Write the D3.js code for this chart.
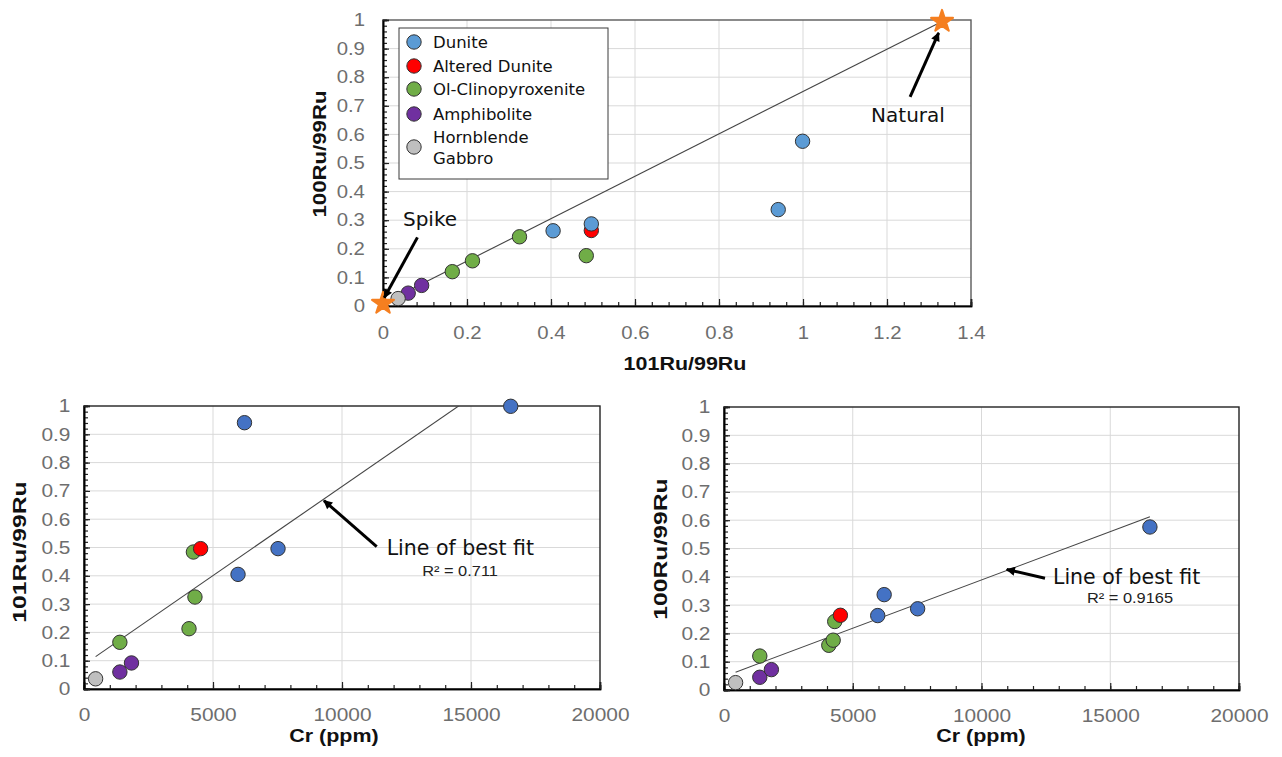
<!DOCTYPE html>
<html>
<head>
<meta charset="utf-8">
<script src="https://cdn.jsdelivr.net/npm/d3@7"></script>
<style>
  html, body { margin: 0; padding: 0; background: #fff; }
  svg { display: block; }
</style>
</head>
<body>
<svg id="chart" width="1282" height="757"></svg>
<script>
// ---- sample data ----
const groups = ["Dunite", "Altered Dunite", "Ol-Clinopyroxenite", "Amphibolite", "Hornblende Gabbro"];
const legendLabels = [["Dunite"], ["Altered Dunite"], ["Ol-Clinopyroxenite"], ["Amphibolite"], ["Hornblende", "Gabbro"]];
const colorsTop = ["#5b9bd5", "#ff0000", "#70ad47", "#7030a0", "#bfbfbf"];
const colorsBottom = ["#4472c4", "#ff0000", "#70ad47", "#7030a0", "#bfbfbf"];
// stacking order of the series (last drawn is on top)
const drawOrder = ["Ol-Clinopyroxenite", "Altered Dunite", "Amphibolite", "Hornblende Gabbro", "Dunite"];

const sampleGroup = ["Hornblende Gabbro", "Amphibolite", "Amphibolite",
  "Ol-Clinopyroxenite", "Ol-Clinopyroxenite", "Ol-Clinopyroxenite", "Ol-Clinopyroxenite",
  "Altered Dunite", "Dunite", "Dunite", "Dunite", "Dunite"];
const crPpm    = [450, 1390, 1840, 1390, 4070, 4300, 4240, 4520, 5970, 7520, 6220, 16540];
const ru101_99 = [0.036, 0.060, 0.092, 0.165, 0.213, 0.325, 0.484, 0.496, 0.405, 0.496, 0.941, 0.999];
const ru100_99 = [0.026, 0.045, 0.072, 0.120, 0.158, 0.242, 0.176, 0.264, 0.263, 0.287, 0.337, 0.576];

// isotope end-members
const endMemberNames = ["Spike", "Natural"];
const endMember101 = [0, 1.331];
const endMember100 = [0.009, 0.995];

// axis ticks
const ratioTicksX = [0, 0.2, 0.4, 0.6, 0.8, 1, 1.2, 1.4];
const ratioTicksY = [0, 0.1, 0.2, 0.3, 0.4, 0.5, 0.6, 0.7, 0.8, 0.9, 1];
const crTicks = [0, 5000, 10000, 15000, 20000];

const r2Left = "R² = 0.711";
const r2Right = "R² = 0.9165";

// ---- helpers ----
const svg = d3.select("#chart");
const ARIAL = "'Liberation Sans', Arial, sans-serif";
const DEJAVU = "'DejaVu Sans', Verdana, sans-serif";
const TXT_SX = 1.13; // horizontal stretch of the Arial lettering

const samples = crPpm.map((c, i) => ({
  cr: c, r101: ru101_99[i], r100: ru100_99[i], group: sampleGroup[i]
})).sort((a, b) => drawOrder.indexOf(a.group) - drawOrder.indexOf(b.group));

const defs = svg.append("defs");
defs.append("marker")
  .attr("id", "arrowhead")
  .attr("viewBox", "0 0 10 10")
  .attr("refX", 9).attr("refY", 5)
  .attr("markerWidth", 11).attr("markerHeight", 9)
  .attr("markerUnits", "userSpaceOnUse")
  .attr("orient", "auto")
  .append("path").attr("d", "M0,0 L10,5 L0,10 Z").attr("fill", "#000");

function fmtTick(d) { return d3.format("~g")(d); }

function linearFit(xs, ys) {
  const mx = d3.mean(xs), my = d3.mean(ys);
  const sxy = d3.sum(xs, (x, i) => (x - mx) * (ys[i] - my));
  const sxx = d3.sum(xs, x => (x - mx) * (x - mx));
  const slope = sxy / sxx;
  return { slope, intercept: my - slope * mx };
}

function panel(cfg) {
  const x = d3.scaleLinear().domain(cfg.xDomain).range([cfg.left, cfg.right]);
  const y = d3.scaleLinear().domain([0, 1]).range([cfg.bottom, cfg.top]);
  const g = svg.append("g");
  const clipId = "clip-" + cfg.id;
  defs.append("clipPath").attr("id", clipId).append("rect")
    .attr("x", cfg.left).attr("y", cfg.top)
    .attr("width", cfg.right - cfg.left).attr("height", cfg.bottom - cfg.top);

  // gridlines
  g.append("g").selectAll("line").data(cfg.xTicks.slice(1, -1)).join("line")
    .attr("x1", d => x(d)).attr("x2", d => x(d))
    .attr("y1", cfg.top).attr("y2", cfg.bottom)
    .attr("stroke", "#d9d9d9").attr("stroke-width", 1);
  g.append("g").selectAll("line").data(ratioTicksY.slice(1, -1)).join("line")
    .attr("x1", cfg.left).attr("x2", cfg.right)
    .attr("y1", d => y(d)).attr("y2", d => y(d))
    .attr("stroke", "#d9d9d9").attr("stroke-width", 1);

  // plot frame
  g.append("rect")
    .attr("x", cfg.left).attr("y", cfg.top)
    .attr("width", cfg.right - cfg.left).attr("height", cfg.bottom - cfg.top)
    .attr("fill", "none").attr("stroke", cfg.frame).attr("stroke-width", 1.4);

  // minor ticks (inside)
  const xStep = (cfg.xTicks[1] - cfg.xTicks[0]) / 5;
  const minorX = d3.range(cfg.xDomain[0], cfg.xDomain[1] + xStep / 2, xStep);
  const minorY = d3.range(0, 1.0001, 0.02);
  const axX = g.append("g").attr("transform", `translate(0,${cfg.bottom})`);
  axX.call(d3.axisBottom(x).tickValues(minorX).tickSize(-4).tickFormat(""));
  axX.append("g").call(d3.axisBottom(x).tickValues(cfg.xTicks).tickSize(-7)
    .tickPadding(cfg.xPad).tickFormat(fmtTick));
  const axY = g.append("g").attr("transform", `translate(${cfg.left},0)`);
  axY.call(d3.axisLeft(y).tickValues(minorY).tickSize(-4).tickFormat(""));
  axY.append("g").call(d3.axisLeft(y).tickValues(ratioTicksY).tickSize(-6)
    .tickPadding(cfg.yPad).tickFormat(fmtTick));
  g.selectAll(".domain").attr("stroke", "#000").attr("stroke-width", 1.6);
  g.selectAll(".tick line").attr("stroke", "#222").attr("stroke-width", 1.2);
  g.selectAll(".tick text")
    .attr("font-family", ARIAL).attr("font-size", cfg.tickFont)
    .attr("fill", "#6e6e6e")
    .attr("transform", `scale(${TXT_SX},1)`);

  // axis titles
  g.append("text")
    .attr("transform", `translate(${cfg.xTitle[0]},${cfg.xTitle[1]}) scale(${TXT_SX},1)`)
    .attr("text-anchor", "middle")
    .attr("font-family", ARIAL).attr("font-weight", "bold").attr("font-size", 19)
    .attr("fill", "#111").text(cfg.xLabel);
  g.append("text")
    .attr("transform", `translate(${cfg.yTitle[0]},${cfg.yTitle[1]}) rotate(-90) scale(${cfg.yTitleSx},1)`)
    .attr("text-anchor", "middle")
    .attr("font-family", ARIAL).attr("font-weight", "bold").attr("font-size", 19)
    .attr("fill", "#111").text(cfg.yLabel);

  return { g, x, y, clipId };
}

function drawPoints(p, xKey, yKey, colors) {
  p.g.append("g").selectAll("circle").data(samples).join("circle")
    .attr("cx", d => p.x(d[xKey])).attr("cy", d => p.y(d[yKey]))
    .attr("r", 7.2)
    .attr("fill", d => colors[groups.indexOf(d.group)])
    .attr("stroke", "#333").attr("stroke-width", 1);
}

function drawFit(p, xKey, yKey) {
  const fit = linearFit(samples.map(d => d[xKey]), samples.map(d => d[yKey]));
  const [x0, x1] = d3.extent(samples, d => d[xKey]);
  p.g.append("line")
    .attr("clip-path", `url(#${p.clipId})`)
    .attr("x1", p.x(x0)).attr("y1", p.y(fit.intercept + fit.slope * x0))
    .attr("x2", p.x(x1)).attr("y2", p.y(fit.intercept + fit.slope * x1))
    .attr("stroke", "#444").attr("stroke-width", 1.1);
}

function arrow(p, from, to) {
  p.g.append("line")
    .attr("x1", p.x(from[0])).attr("y1", p.y(from[1]))
    .attr("x2", p.x(to[0])).attr("y2", p.y(to[1]))
    .attr("stroke", "#000").attr("stroke-width", 3)
    .attr("marker-end", "url(#arrowhead)");
}

function note(p, pos, text, size, anchor) {
  p.g.append("text")
    .attr("x", p.x(pos[0])).attr("y", p.y(pos[1]))
    .attr("text-anchor", anchor || "start")
    .attr("font-family", DEJAVU).attr("font-size", size)
    .attr("fill", "#111").text(text);
}

function r2note(p, pos, text) {
  p.g.append("text")
    .attr("transform", `translate(${p.x(pos[0])},${p.y(pos[1])}) scale(${TXT_SX},1)`)
    .attr("text-anchor", "middle")
    .attr("font-family", ARIAL).attr("font-size", 14.5)
    .attr("fill", "#222").text(text);
}

// ---- top: 100Ru/99Ru vs 101Ru/99Ru ----
const ratioPanel = panel({
  id: "ratio", left: 383, right: 971, top: 20, bottom: 306,
  xDomain: [0, 1.4], xTicks: ratioTicksX, frame: "#5a5a5a",
  xPad: 20, yPad: 16, tickFont: 18,
  xLabel: "101Ru/99Ru", yLabel: "100Ru/99Ru",
  xTitle: [685, 370], yTitle: [326, 154], yTitleSx: 1.17
});

// mixing line between the spike and natural ruthenium
ratioPanel.g.append("line")
  .attr("x1", ratioPanel.x(endMember101[0])).attr("y1", ratioPanel.y(endMember100[0]))
  .attr("x2", ratioPanel.x(endMember101[1])).attr("y2", ratioPanel.y(endMember100[1]))
  .attr("stroke", "#444").attr("stroke-width", 1.1);

drawPoints(ratioPanel, "r101", "r100", colorsTop);

ratioPanel.g.append("g").selectAll("path").data(endMember101).join("path")
  .attr("transform", (d, i) => `translate(${ratioPanel.x(d)},${ratioPanel.y(endMember100[i])})`)
  .attr("d", d3.symbol(d3.symbolStar, 150))
  .attr("fill", "#f57f20").attr("stroke", "#f57f20").attr("stroke-width", 2)
  .attr("stroke-linejoin", "round");

note(ratioPanel, [0.112, 0.28], endMemberNames[0], 20, "middle");
arrow(ratioPanel, [0.082, 0.24], [endMember101[0] + 0.003, endMember100[0] + 0.02]);
note(ratioPanel, [1.25, 0.643], endMemberNames[1], 20, "middle");
arrow(ratioPanel, [1.255, 0.731], [1.323, 0.955]);

// legend
const lg = ratioPanel.g.append("g").attr("transform", "translate(399,28)");
lg.append("rect").attr("width", 209).attr("height", 151)
  .attr("fill", "#fff").attr("stroke", "#3a3a3a").attr("stroke-width", 1);
const rowY = [14, 38, 61, 86, 119];
legendLabels.forEach((lines, i) => {
  lg.append("circle").attr("cx", 15).attr("cy", rowY[i]).attr("r", 7.2)
    .attr("fill", colorsTop[i]).attr("stroke", "#333").attr("stroke-width", 1);
  const t = lg.append("text").attr("x", 34)
    .attr("font-family", DEJAVU).attr("font-size", 16.5).attr("fill", "#111");
  if (lines.length === 1) {
    t.attr("y", rowY[i] + 6).text(lines[0]);
  } else {
    t.selectAll("tspan").data(lines).join("tspan")
      .attr("x", 34).attr("y", (d, k) => rowY[i] - 4.5 + k * 21.5).text(d => d);
  }
});

// ---- bottom left: 101Ru/99Ru vs Cr ----
const crPanel101 = panel({
  id: "cr101", left: 84, right: 600, top: 406, bottom: 689,
  xDomain: [0, 20000], xTicks: crTicks, frame: "#222",
  xPad: 19, yPad: 12, tickFont: 18.5,
  xLabel: "Cr (ppm)", yLabel: "101Ru/99Ru",
  xTitle: [334, 742], yTitle: [26, 552], yTitleSx: 1.3
});
drawFit(crPanel101, "cr", "r101");
drawPoints(crPanel101, "cr", "r101", colorsBottom);
arrow(crPanel101, [11345, 0.503], [9300, 0.666]);
note(crPanel101, [11733, 0.473], "Line of best fit", 20.5, "start");
r2note(crPanel101, [14574, 0.398], r2Left);

// ---- bottom right: 100Ru/99Ru vs Cr ----
const crPanel100 = panel({
  id: "cr100", left: 724, right: 1239, top: 407, bottom: 690,
  xDomain: [0, 20000], xTicks: crTicks, frame: "#222",
  xPad: 19, yPad: 12, tickFont: 18.5,
  xLabel: "Cr (ppm)", yLabel: "100Ru/99Ru",
  xTitle: [981, 742], yTitle: [667, 549], yTitleSx: 1.3
});
drawFit(crPanel100, "cr", "r100");
drawPoints(crPanel100, "cr", "r100", colorsBottom);
arrow(crPanel100, [12466, 0.395], [10980, 0.426]);
note(crPanel100, [12777, 0.375], "Line of best fit", 20.5, "start");
r2note(crPanel100, [15767, 0.309], r2Right);
</script>
</body>
</html>
